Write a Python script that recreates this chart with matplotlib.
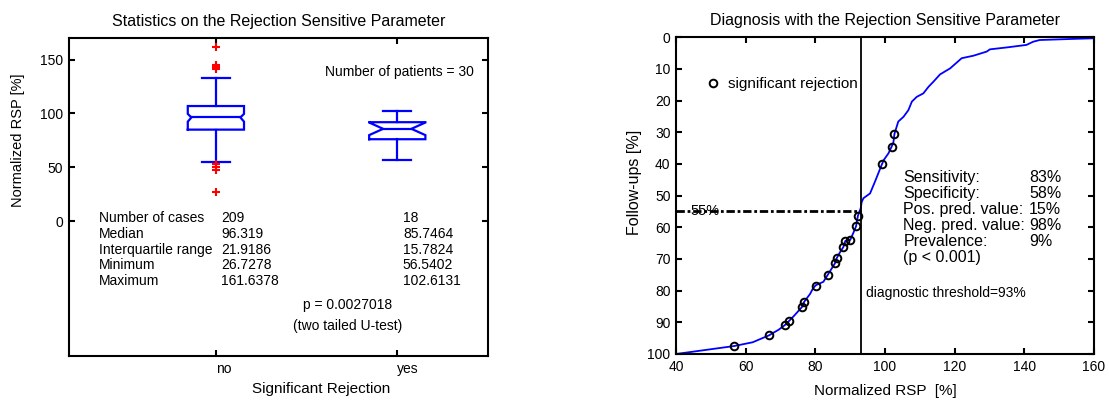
import matplotlib
matplotlib.use('Agg')
import matplotlib.pyplot as plt

plt.rcParams['font.family'] = ['Liberation Sans', 'DejaVu Sans']

# ---------------- left panel data ----------------
groups = ['no', 'yes']
group_pos = [1, 2]
q1 = [85.0, 76.1]
median = [96.319, 85.7464]
q3 = [106.9, 91.9]
notch_lo = [92.4, 79.9]
notch_hi = [99.6, 91.6]
whisker_lo = [55.2, 56.5402]
whisker_hi = [133.3, 102.6131]
outliers = [[161.6378, 145.3, 143.9, 142.6, 141.3, 52.8, 50.4, 47.8, 26.7278], []]

stat_labels = ['Number of cases', 'Median', 'Interquartile range', 'Minimum', 'Maximum']
stats_no = ['209', '96.319', '21.9186', '26.7278', '161.6378']
stats_yes = ['18', '85.7464', '15.7824', '56.5402', '102.6131']

# ---------------- right panel data ----------------
curve_rsp = [26.7, 40.0, 56.6, 62.0, 66.7, 69.5, 71.2, 72.5, 74.0, 76.2, 76.8, 78.5,
             79.3, 80.1, 82.3, 83.5, 85.6, 86.1, 87.0, 88.0, 88.6, 90.0, 91.0, 91.7,
             92.2, 93.0, 93.3, 93.8, 95.7, 97.1, 99.1, 99.6, 101.0, 101.9, 102.4, 102.7,
             103.8, 105.3, 106.7, 107.7, 109.1, 111.0, 112.5, 113.9, 115.8, 118.7, 122.0,
             125.4, 129.2, 130.1, 134.9, 140.6, 142.5, 144.4, 154.0, 160.0, 161.6]
curve_followups = [100.0, 100.0, 97.5, 96.3, 94.1, 92.3, 90.9, 89.5, 87.8, 85.1, 83.5, 81.0,
                   79.3, 78.3, 77.2, 75.1, 71.4, 69.8, 68.0, 66.3, 64.3, 64.0, 61.5, 59.6,
                   56.4, 54.0, 52.0, 50.8, 49.3, 45.6, 40.1, 38.8, 36.6, 34.5, 33.2, 30.5,
                   26.6, 25.1, 23.0, 20.3, 18.8, 17.7, 15.6, 14.0, 11.7, 9.8, 6.6,
                   5.8, 4.5, 3.8, 3.2, 2.4, 1.4, 0.85, 0.5, 0.3, 0.0]
sig_rsp = [56.7, 66.8, 71.3, 72.5, 76.2, 76.8, 80.2, 83.5, 85.6, 86.1, 88.0, 88.6, 90.0,
           91.7, 92.2, 99.1, 101.9, 102.7]
sig_followups = [97.4, 94.0, 90.9, 89.5, 85.1, 83.5, 78.5, 75.1, 71.4, 69.8, 66.3, 64.3, 64.0,
                 59.6, 56.4, 40.1, 34.5, 30.5]
threshold = 93
threshold_followups = 55
diag_labels = ['Sensitivity:', 'Specificity:', 'Pos. pred. value:', 'Neg. pred. value:',
               'Prevalence:', '(p < 0.001)']
diag_values = ['83%', '58%', '15%', '98%', '9%', '']

BLUE = '#0000ff'

fig = plt.figure(figsize=(11.09, 4.03), dpi=100)
axL = fig.add_axes([0.0622, 0.1166, 0.3778, 0.7891])
axR = fig.add_axes([0.6096, 0.1216, 0.3769, 0.7858])

# ---------------- left panel ----------------
box_width = 0.31
cap_width = 0.155
notch_depth = [0.02, 0.077]
for i, pos in enumerate(group_pos):
    hw = box_width / 2
    d = notch_depth[i]
    xs = [pos - hw, pos - hw, pos - hw + d, pos - hw, pos - hw, pos + hw, pos + hw,
          pos + hw - d, pos + hw, pos + hw, pos - hw]
    ys = [q1[i], notch_lo[i], median[i], notch_hi[i], q3[i], q3[i], notch_hi[i],
          median[i], notch_lo[i], q1[i], q1[i]]
    axL.plot(xs, ys, color=BLUE, lw=1.6, solid_joinstyle='miter')
    axL.plot([pos - hw + d, pos + hw - d], [median[i], median[i]], color=BLUE, lw=1.6)
    axL.plot([pos, pos], [q3[i], whisker_hi[i]], color=BLUE, lw=1.6)
    axL.plot([pos, pos], [q1[i], whisker_lo[i]], color=BLUE, lw=1.6)
    for w in (whisker_lo[i], whisker_hi[i]):
        axL.plot([pos - cap_width / 2, pos + cap_width / 2], [w, w], color=BLUE, lw=1.6)
    if outliers[i]:
        axL.plot([pos] * len(outliers[i]), outliers[i], '+', color='red', ms=6, mew=1.5)

axL.set_xlim(0.19, 2.5)
axL.set_ylim(-125, 170)
axL.set_yticks([0, 50, 100, 150])
axL.set_xticks(group_pos)
axL.set_xticklabels(groups, ha='left')
axL.tick_params(direction='in', top=True, right=True, length=4, width=1.5, labelsize=10)
axL.tick_params(axis='x', pad=4)
axL.tick_params(axis='y', pad=4)
for s in axL.spines.values():
    s.set_linewidth(1.5)
axL.set_title('Statistics on the Rejection Sensitive Parameter', fontsize=11.5, pad=9)
axL.set_ylabel('Normalized RSP [%]', fontsize=10.5)
axL.yaxis.set_label_coords(-0.105, 0.679)
axL.set_xlabel('Significant Rejection', fontsize=11)
axL.xaxis.set_label_coords(0.603, -0.082)

row0 = 0.4223
dy = 0.05
for k, lab in enumerate(stat_labels):
    yb = row0 - k * dy
    axL.text(0.0716, yb, lab, transform=axL.transAxes, fontsize=10, va='baseline')
    axL.text(0.364, yb, stats_no[k], transform=axL.transAxes, fontsize=10, va='baseline')
    axL.text(0.797, yb, stats_yes[k], transform=axL.transAxes, fontsize=10, va='baseline')
axL.text(0.666, 0.147, 'p = 0.0027018', transform=axL.transAxes, fontsize=10,
         va='baseline', ha='center')
axL.text(0.666, 0.082, '(two tailed U-test)', transform=axL.transAxes, fontsize=10,
         va='baseline', ha='center')
axL.text(0.611, 0.880, 'Number of patients = 30', transform=axL.transAxes, fontsize=10,
         va='baseline')

# ---------------- right panel ----------------
axR.plot(curve_rsp, curve_followups, color=BLUE, lw=1.3)
axR.plot(sig_rsp, sig_followups, 'o', ms=5.5, mfc='none', mec='black', mew=1.4,
         label='significant rejection')
axR.axvline(threshold, color='black', lw=1.3)
axR.plot([40, threshold], [threshold_followups, threshold_followups], color='black',
         lw=2, linestyle=(0, (3, 1, 1, 1)))
axR.set_xlim(40, 160)
axR.set_ylim(100, 0)
axR.set_xticks(range(40, 161, 20))
axR.set_yticks(range(0, 101, 10))
axR.tick_params(direction='in', top=True, right=True, length=4, width=1.5, labelsize=10)
axR.tick_params(axis='x', pad=4)
axR.tick_params(axis='y', pad=4)
for s in axR.spines.values():
    s.set_linewidth(1.5)
axR.set_title('Diagnosis with the Rejection Sensitive Parameter', fontsize=11.5, pad=9)
axR.set_xlabel('Normalized RSP  [%]', fontsize=11)
axR.xaxis.set_label_coords(0.5, -0.095)
axR.set_ylabel('Follow-ups [%]', fontsize=11.5)
axR.yaxis.set_label_coords(-0.081, 0.5415)

axR.text(44.0, 56.1, '55%', fontsize=10.5, va='baseline')
axR.text(94.5, 81.9, 'diagnostic threshold=93%', fontsize=10, va='baseline')
for k, lab in enumerate(diag_labels):
    yb = 45.6 + k * 5.05
    axR.text(105.3, yb, lab, fontsize=11.5, va='baseline')
    if diag_values[k]:
        axR.text(141.4, yb, diag_values[k], fontsize=11.5, va='baseline')

axR.legend(loc='upper left', bbox_to_anchor=(0.0697, 0.875), frameon=False,
           borderpad=0, handlelength=1.0, handletextpad=0.5, fontsize=11,
           borderaxespad=0)

fig.savefig('out.png', dpi=100)
